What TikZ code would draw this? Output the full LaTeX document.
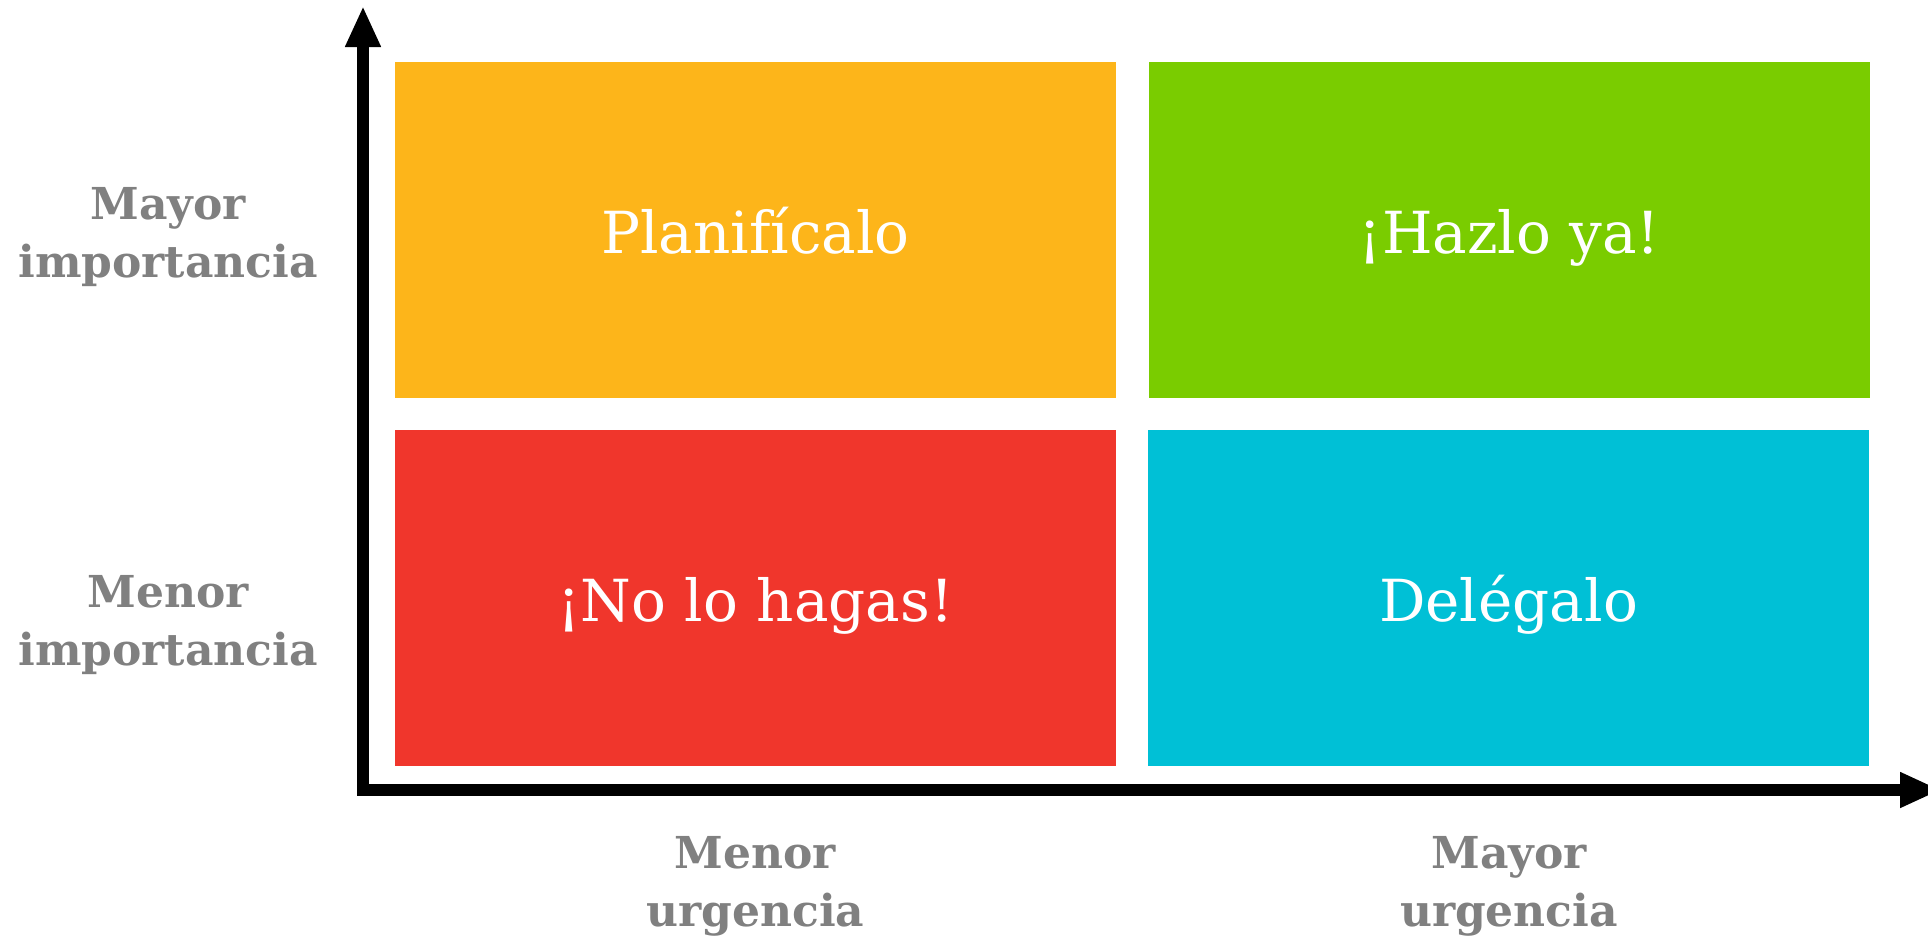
\documentclass[tikz,border=0pt]{standalone}
\usepackage{fontspec}
\setmainfont{DejaVu Serif}
\usetikzlibrary{arrows.meta, positioning, calc}
\definecolor{emOrange}{HTML}{FDB51A}
\definecolor{emGreen}{HTML}{7ACC00}
\definecolor{emRed}{HTML}{F0362C}
\definecolor{emCyan}{HTML}{00C0D6}
\definecolor{emGrey}{HTML}{808080}

\begin{document}
\begin{tikzpicture}[
    x=1pt, y=-1pt,
    quad/.style={minimum width=721pt, minimum height=336pt, inner sep=0pt,
                 text=white, font=\fontsize{58}{70}\selectfont,
                 text height=46pt, text depth=0pt},
    axlabel/.style={text=emGrey, font=\fontsize{44}{58}\selectfont\bfseries,
                    align=center, anchor=base, inner sep=0pt},
    ax/.style={{Triangle[length=41pt, width=33pt]}-{Triangle[length=41pt, width=33pt]},
               line width=12.7pt, draw=black, line join=miter},
  ]
  \useasboundingbox (0,0) rectangle (1928,940);

  \node[quad, fill=emOrange] (plan) at (755.5,230) {Planifícalo};
  \node[quad, fill=emGreen]  (now)  at (1509.5,230) {¡Hazlo ya!};
  \node[quad, fill=emRed]    (dont) at (755.5,598) {¡No lo hagas!};
  \node[quad, fill=emCyan]   (dele) at (1508.5,598) {Delégalo};

  % axes
  \coordinate (origin) at (363,790);
  \coordinate (ytip) at (363,6);
  \coordinate (xtip) at (1941,790);
  \draw[ax] (ytip) -- (origin) -- (xtip);

  \node[axlabel] (himp) at (168,277) {Mayor\\importancia};
  \node[axlabel] (limp) at (168,665) {Menor\\importancia};
  \node[axlabel] (lurg) at (755.5,926) {Menor\\urgencia};
  \node[axlabel] (hurg) at (1509,926) {Mayor\\urgencia};
\end{tikzpicture}
\end{document}
